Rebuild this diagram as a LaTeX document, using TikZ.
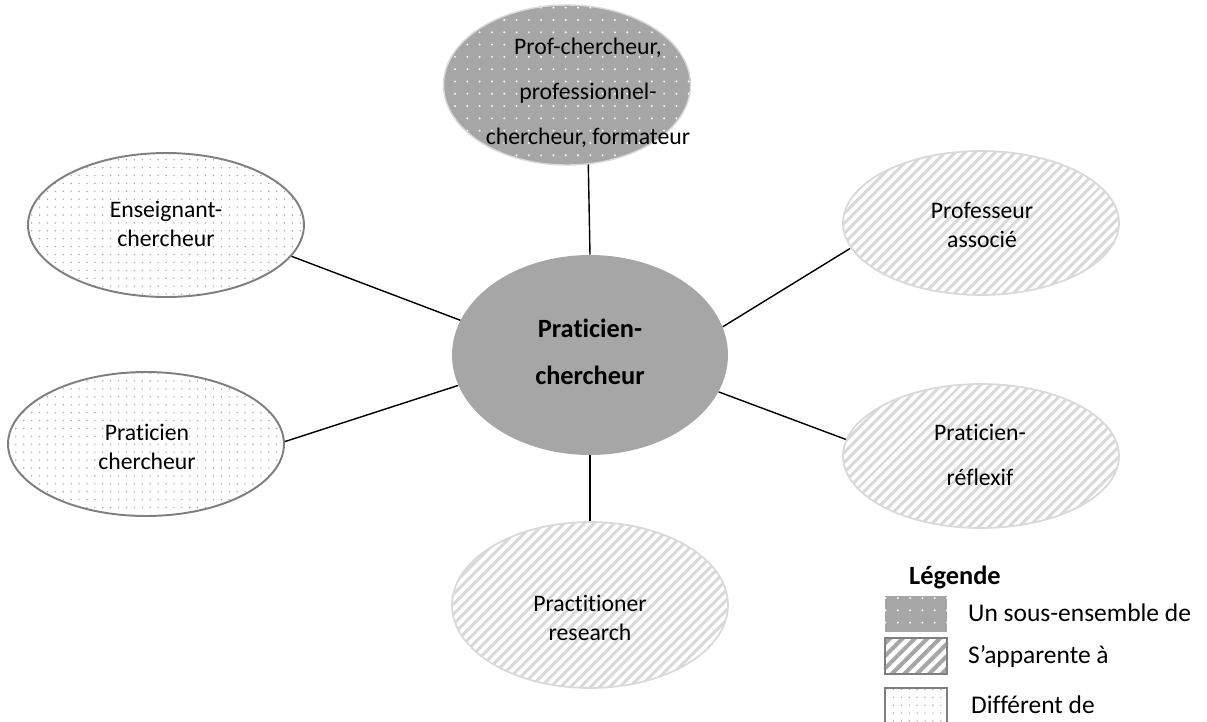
\documentclass[tikz,border=0pt]{standalone}
\usepackage{fontspec}
\setmainfont{Carlito}[RawFeature=-liga, RawFeature=-clig, RawFeature=-calt, RawFeature=-dlig]
\usepackage{tikz}
\usetikzlibrary{shapes.geometric,patterns.meta}
\definecolor{grisfonce}{HTML}{A6A6A6}
\definecolor{grisclair}{HTML}{D9D9D9}
\definecolor{grisbord}{HTML}{7F7F7F}

\begin{document}
\begin{tikzpicture}[x=0.02cm, y=-0.02cm,
        bulle/.style={ellipse, minimum width=5.52cm, minimum height=2.88cm, inner sep=0pt},
        inclus/.style={bulle, draw=grisclair, line width=0.8pt, preaction={fill=grisfonce}, pattern={Dots[distance=7pt,radius=0.6pt]}, pattern color=white},
        proche/.style={bulle, draw=grisclair, line width=1pt, pattern={Lines[angle=45,distance=4pt,line width=1.8pt]}, pattern color=grisclair},
        autre/.style={bulle, draw=grisbord, line width=1.1pt, pattern={Dots[distance=4.5pt,radius=0.45pt]}, pattern color=grisfonce},
        simple/.style={align=center, font=\fontsize{13.5}{16.5}\selectfont},
        double/.style={align=center, font=\fontsize{13.5}{25.5}\selectfont},
        lien/.style={line width=0.8pt},
        case/.style={minimum width=1.24cm, minimum height=0.72cm, inner sep=0pt},
        legtxt/.style={anchor=west, font=\fontsize{14.5}{17}\selectfont}]
        \useasboundingbox (0,0) rectangle (1207,721);
        \node[bulle, fill=grisfonce, minimum height=4cm] (pc) at (590,355) {};
        \node[align=center, font=\fontsize{15}{26.5}\selectfont\bfseries] (pcT) at (590,352) {Praticien-\\chercheur};
        \node[inclus, minimum width=4.94cm, minimum height=3.2cm] (prof) at (567,85) {};
        \node[double] (profT) at (588,93) {Prof-chercheur,\\professionnel-\\chercheur, formateur};
        \node[autre] (ens) at (166,225) {};
        \node[simple] (ensT) at (166,224) {Enseignant-\\chercheur};
        \node[autre] (pcg) at (146,444) {};
        \node[simple] (pcgT) at (147,447) {Praticien\\chercheur};
        \node[proche] (pa) at (981,223) {};
        \node[simple] (paT) at (982,225) {Professeur\\associé};
        \node[proche] (pr) at (981,456) {};
        \node[double] (prT) at (980,455) {Praticien-\\réflexif};
        \node[proche, minimum height=3.32cm] (prt) at (590,605) {};
        \node[simple] (prtT) at (590,618) {Practitioner\\research};
        \draw[lien] (prof.285.6) -- (pc.north);
        \draw[lien] (ens.-14.8) -- (pc.165.4);
        \draw[lien] (pa.191.2) -- (pc.12.3);
        \draw[lien] (pcg.1.6) -- (pc.193.4);
        \draw[lien] (pr.173.4) -- (pc.-16.3);
        \draw[lien] (pc.south) -- (prt.north);
        \node[anchor=west, font=\fontsize{15}{17}\selectfont\bfseries] (leg) at (903,577) {Légende};
        \node[case, preaction={fill=grisfonce}, pattern={Dots[distance=7pt,radius=0.6pt]}, pattern color=white] (c1) at (916,614) {};
        \node[case, draw=grisbord, line width=1.1pt, pattern={Lines[angle=45,distance=5pt,line width=2.3pt]}, pattern color=grisfonce] (c2) at (916,656) {};
        \node[case, draw=grisbord, line width=1.1pt, pattern={Dots[distance=4.5pt,radius=0.45pt]}, pattern color=grisfonce] (c3) at (916,706) {};
        \node[legtxt] (t1) at (962,613) {Un sous-ensemble de};
        \node[legtxt] (t2) at (962,657) {S’apparente à};
        \node[legtxt] (t3) at (965,705) {Différent de};
    \end{tikzpicture}
\end{document}
